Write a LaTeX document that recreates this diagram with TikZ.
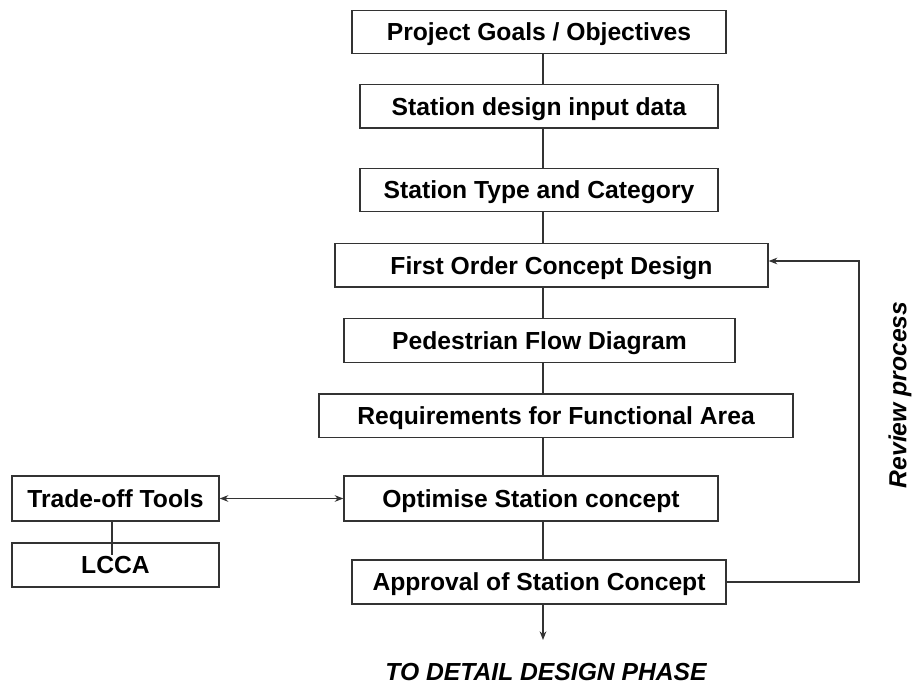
\documentclass[tikz,border=0pt]{standalone}
\usepackage{fontspec}
\setmainfont{Liberation Sans}
\usetikzlibrary{arrows.meta}
\begin{document}
\begin{tikzpicture}[x=0.75pt,y=-0.75pt,
  stepbox/.style={draw=black!80, line width=1pt, inner sep=0pt, minimum height=32.5pt,
    text height=13pt, text depth=-1pt,
    font=\fontsize{18.5}{22}\selectfont\bfseries},
  conn/.style={draw=black!80, line width=0.9pt},
  tip/.style={-{Stealth[length=6.5pt,width=5pt]}},
  lbl/.style={font=\fontsize{18.5}{22}\selectfont\bfseries\itshape, inner sep=0pt}]
\useasboundingbox (0,0) rectangle (914,684);
\node[stepbox, minimum width=280.5pt] (g1) at (539,32) {Project Goals / Objectives};
\node[stepbox, minimum width=268.5pt] (g2) at (539,106.5) {Station design input data};
\node[stepbox, minimum width=268.5pt] (g3) at (539,190) {Station Type and Category};
\node[stepbox, minimum width=324.75pt] (g4) at (551.5,265.5) {First Order Concept Design};
\node[stepbox, minimum width=293.25pt] (g5) at (539.5,340.5) {Pedestrian Flow Diagram};
\node[stepbox, minimum width=355.5pt] (g6) at (556,415.5) {Requirements for Functional Area};
\node[stepbox, minimum width=280.5pt, minimum height=33.75pt] (g7) at (531,498.5) {Optimise Station concept};
\node[stepbox, minimum width=280.5pt, minimum height=33pt] (g8) at (539,582) {Approval of Station Concept};
\node[stepbox, minimum width=155.25pt, minimum height=33.75pt] (trade) at (115.5,498.5) {Trade-off Tools};
\node[stepbox, minimum width=155.25pt, minimum height=33pt] (lcca) at (115.5,565) {LCCA};
\node[lbl] (out) at (546,672) {TO DETAIL DESIGN PHASE};
\node[lbl, rotate=90] (rev) at (900,395) {Review process};
\coordinate (ax) at (543,0);
\coordinate (rt) at (859,261);
\coordinate (lc) at (112,555);
\coordinate (end) at (543,640);
\draw[conn] (g1.south -| ax) -- (g2.north -| ax);
\draw[conn] (g2.south -| ax) -- (g3.north -| ax);
\draw[conn] (g3.south -| ax) -- (g4.north -| ax);
\draw[conn] (g4.south -| ax) -- (g5.north -| ax);
\draw[conn] (g5.south -| ax) -- (g6.north -| ax);
\draw[conn] (g6.south -| ax) -- (g7.north -| ax);
\draw[conn] (g7.south -| ax) -- (g8.north -| ax);
\draw[conn, tip] (g8.south -| ax) -- (end);
\draw[conn, {Stealth[length=6.5pt,width=5pt]}-{Stealth[length=6.5pt,width=5pt]}] (trade.east) -- (g7.west);
\draw[conn] (trade.south -| lc) -- (lc);
\draw[conn, tip] (g8.east) -| (rt) -- (rt -| g4.east);
\end{tikzpicture}
\end{document}
